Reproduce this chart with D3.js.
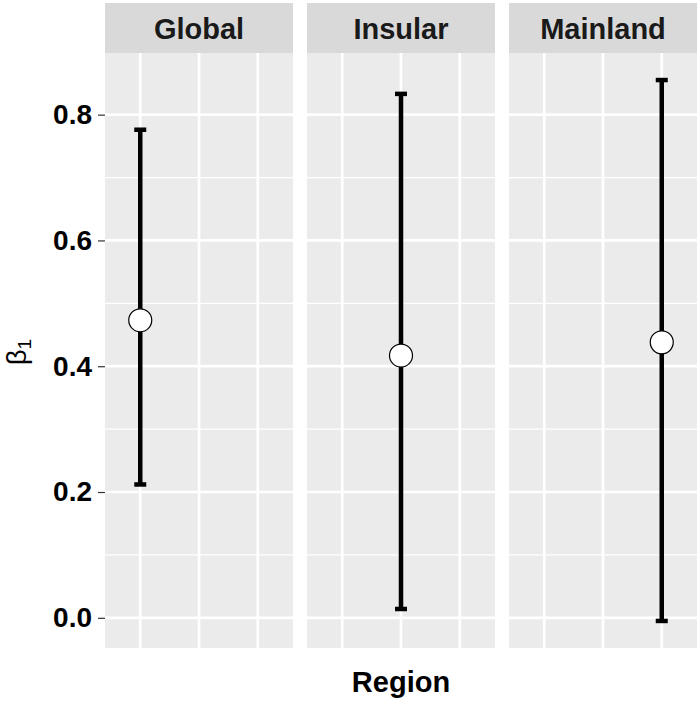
<!DOCTYPE html>
<html>
<head>
<meta charset="utf-8">
<script src="https://cdn.jsdelivr.net/npm/d3@7"></script>
<style>
  body { margin: 0; background: #fff; }
  text { font-family: "Liberation Sans", Arial, sans-serif; }
</style>
</head>
<body>
<svg id="chart"></svg>
<script>
const width = 700;
const height = 701;

// data
const regions = ['Global', 'Insular', 'Mainland'];
const estimate = [0.473, 0.417, 0.438];
const lower = [0.212, 0.014, -0.005];
const upper = [0.776, 0.833, 0.855];
const yTicks = [0.0, 0.2, 0.4, 0.6, 0.8];
const yMinor = [0.1, 0.3, 0.5, 0.7];

const svg = d3.select('#chart')
    .attr('width', width)
    .attr('height', height);

const panelTop = 53;
const panelBottom = 648;
const stripTop = 3;
const panelLeft = [105, 307, 509];
const panelW = 188;

// y scale with ggplot-style 5% expansion
const yMin = d3.min(lower), yMax = d3.max(upper);
const pad = (yMax - yMin) * 0.05;
const y = d3.scaleLinear()
    .domain([yMin - pad, yMax + pad])
    .range([panelBottom, panelTop]);

// discrete x, 0.6 step of padding each side like ggplot
const x = d3.scalePoint()
    .domain(regions)
    .range([0, panelW])
    .padding(0.6);

regions.forEach((r, i) => {
    const g = svg.append('g')
        .attr('transform', `translate(${panelLeft[i]},0)`);

    // strip
    g.append('rect')
        .attr('x', 0).attr('y', stripTop)
        .attr('width', panelW).attr('height', panelTop - stripTop)
        .attr('fill', '#d9d9d9');
    g.append('text')
        .attr('x', panelW / 2).attr('y', 39)
        .attr('text-anchor', 'middle')
        .attr('font-size', 29)
        .attr('font-weight', 'bold')
        .attr('fill', '#1a1a1a')
        .text(r);

    // panel background
    g.append('rect')
        .attr('x', 0).attr('y', panelTop)
        .attr('width', panelW).attr('height', panelBottom - panelTop)
        .attr('fill', '#ebebeb');

    // grid
    g.selectAll('.minor').data(yMinor).enter().append('line')
        .attr('x1', 0).attr('x2', panelW)
        .attr('y1', d => y(d)).attr('y2', d => y(d))
        .attr('stroke', '#fff').attr('stroke-width', 1.3);
    g.selectAll('.major').data(yTicks).enter().append('line')
        .attr('x1', 0).attr('x2', panelW)
        .attr('y1', d => y(d)).attr('y2', d => y(d))
        .attr('stroke', '#fff').attr('stroke-width', 2.7);
    g.selectAll('.vgrid').data(regions).enter().append('line')
        .attr('x1', d => x(d)).attr('x2', d => x(d))
        .attr('y1', panelTop).attr('y2', panelBottom)
        .attr('stroke', '#fff').attr('stroke-width', 2.7);

    // error bar
    const cx = x(r);
    g.append('line')
        .attr('x1', cx).attr('x2', cx)
        .attr('y1', y(lower[i])).attr('y2', y(upper[i]))
        .attr('stroke', '#000').attr('stroke-width', 4.5);
    [lower[i], upper[i]].forEach(v => {
        g.append('line')
            .attr('x1', cx - 6).attr('x2', cx + 6)
            .attr('y1', y(v)).attr('y2', y(v))
            .attr('stroke', '#000').attr('stroke-width', 4.5);
    });
    g.append('circle')
        .attr('cx', cx).attr('cy', y(estimate[i]))
        .attr('r', 11.5)
        .attr('fill', '#fff')
        .attr('stroke', '#000')
        .attr('stroke-width', 1.2);
});

// y axis
const yAxis = svg.append('g')
    .attr('transform', `translate(${panelLeft[0]},0)`)
    .call(d3.axisLeft(y).tickValues(yTicks).tickFormat(d3.format('.1f')).tickSize(7).tickPadding(6));
yAxis.select('.domain').remove();
yAxis.selectAll('line').attr('stroke', '#333').attr('stroke-width', 1.2);
yAxis.selectAll('text')
    .attr('font-size', 28)
    .attr('font-weight', 'bold')
    .attr('fill', '#000')
    .style('font-family', '"Liberation Sans", Arial, sans-serif');

// axis titles
const yt = svg.append('text')
    .attr('transform', 'translate(26,352) rotate(-90)')
    .attr('text-anchor', 'middle')
    .attr('font-size', 27)
    .attr('fill', '#000');
yt.append('tspan').text('β');
yt.append('tspan').attr('font-size', 19).attr('dy', 5).text('1');

svg.append('text')
    .attr('x', 401).attr('y', 692)
    .attr('text-anchor', 'middle')
    .attr('font-size', 29)
    .attr('font-weight', 'bold')
    .attr('fill', '#000')
    .text('Region');
</script>
</body>
</html>
